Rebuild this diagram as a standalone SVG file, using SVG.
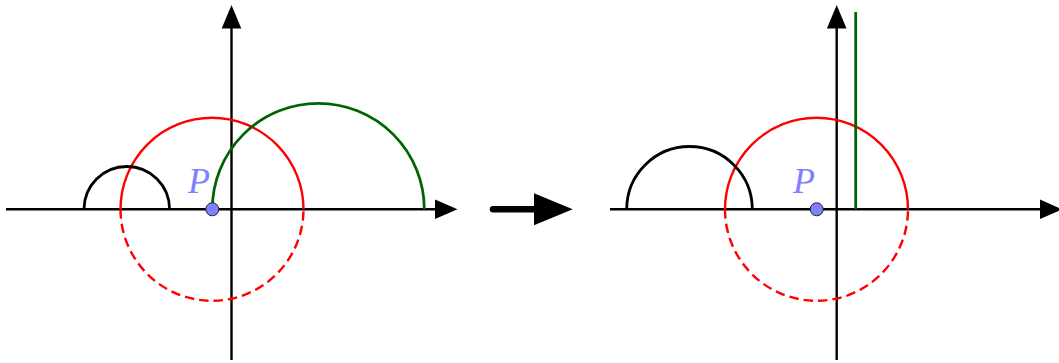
<svg xmlns="http://www.w3.org/2000/svg" width="1059" height="363" viewBox="0 0 1059 363">
  <style>
    .axis { stroke: #000; stroke-width: 2.4; fill: none; }
    .head { fill: #000; stroke: none; }
    .red { stroke: #ff0000; stroke-width: 2.4; fill: none; }
    .dash { stroke-dasharray: 9.5 5; }
    .green { stroke: #006400; stroke-width: 2.8; fill: none; }
    .black { stroke: #000; stroke-width: 2.8; fill: none; }
    .pt { fill: #8080ff; stroke: #222; stroke-width: 1; }
    .lbl { fill: #8080ff; font-family: "Liberation Serif", serif; font-style: italic; font-size: 36px; }
  </style>
  <rect width="1059" height="363" fill="#fff"/>

  <g id="left-panel">
    <g id="left-axes">
      <line class="axis" x1="6" y1="209.3" x2="437" y2="209.3"/>
      <polygon class="head" points="435,199.5 457.5,209.3 435,219.1"/>
      <line class="axis" x1="231.5" y1="360" x2="231.5" y2="26"/>
      <polygon class="head" points="221.7,28.5 231.5,5 241.3,28.5"/>
    </g>
    <g id="left-red-circle">
      <path class="red" d="M120.5,209.3 A91.5,91.5 0 0 1 303.5,209.3"/>
      <path class="red dash" d="M120.5,209.3 A91.5,91.5 0 0 0 303.5,209.3"/>
    </g>
    <g id="left-black-arc">
      <path class="black" d="M84,209.3 A42.8,42.8 0 0 1 169.6,209.3"/>
    </g>
    <g id="left-green-arc">
      <path class="green" d="M212.3,209.3 A106,106 0 0 1 424.3,209.3"/>
    </g>
    <g id="left-P">
      <circle class="pt" cx="212.3" cy="209.3" r="6.5"/>
      <text class="lbl" x="188" y="193">P</text>
    </g>
  </g>

  <g id="connectors">
    <line x1="493" y1="209.3" x2="537" y2="209.3" stroke="#000" stroke-width="6.5" stroke-linecap="round"/>
    <polygon class="head" points="534,193.3 572.7,209.3 534,225.3"/>
  </g>

  <g id="right-panel">
    <g id="right-axes">
      <line class="axis" x1="610" y1="209.3" x2="1041" y2="209.3"/>
      <polygon class="head" points="1040,199.5 1062,209.3 1040,219.1"/>
      <line class="axis" x1="836.7" y1="360" x2="836.7" y2="26"/>
      <polygon class="head" points="826.9,28.5 836.7,5 846.5,28.5"/>
    </g>
    <g id="right-red-circle">
      <path class="red" d="M725,209.3 A91.5,91.5 0 0 1 908,209.3"/>
      <path class="red dash" d="M725,209.3 A91.5,91.5 0 0 0 908,209.3"/>
    </g>
    <g id="right-black-arc">
      <path class="black" d="M626.7,209.3 A62.8,62.8 0 0 1 752.3,209.3"/>
    </g>
    <g id="right-green-line">
      <line class="green" x1="855.7" y1="12" x2="855.7" y2="209.3"/>
    </g>
    <g id="right-P">
      <circle class="pt" cx="816.7" cy="209.3" r="6.5"/>
      <text class="lbl" x="793" y="193">P</text>
    </g>
  </g>
</svg>
